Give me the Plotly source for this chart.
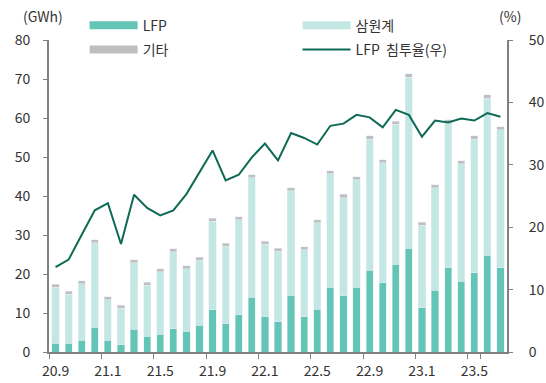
import plotly.graph_objects as go

months = ["20.9", "20.10", "20.11", "20.12",
          "21.1", "21.2", "21.3", "21.4", "21.5", "21.6", "21.7", "21.8", "21.9", "21.10", "21.11", "21.12",
          "22.1", "22.2", "22.3", "22.4", "22.5", "22.6", "22.7", "22.8", "22.9", "22.10", "22.11", "22.12",
          "23.1", "23.2", "23.3", "23.4", "23.5", "23.6", "23.7"]
tick_labels = ["20.9", "21.1", "21.5", "21.9", "22.1", "22.5", "22.9", "23.1", "23.5"]

lfp = [2.3, 2.3, 3.0, 6.3, 3.0, 1.8, 5.8, 4.0, 4.5, 5.9, 5.3, 6.8, 10.8, 7.2, 9.5, 14.0, 9.1, 7.7,
       14.5, 9.1, 10.9, 16.6, 14.4, 16.6, 20.9, 17.7, 22.5, 26.6, 11.3, 15.8, 21.6, 18.1, 20.3, 24.8, 21.6]
ncm = [14.3, 12.5, 14.5, 21.7, 10.4, 9.4, 17.1, 13.1, 16.1, 19.8, 16.0, 16.7, 22.7, 19.9, 24.4, 30.7, 18.5, 18.1,
       26.8, 17.1, 22.2, 29.1, 25.2, 27.6, 33.7, 30.8, 35.9, 43.9, 21.2, 26.3, 37.1, 30.2, 34.3, 40.3, 35.4]
other = [0.8] * 35
share = [13.6, 14.8, 18.8, 22.7, 23.85, 17.3, 25.2, 23.1, 21.9, 22.7, 25.3, 28.8, 32.3, 27.5, 28.4, 31.2, 33.4, 30.7,
         35.1, 34.3, 33.25, 36.25, 36.6, 38.0, 37.6, 36.0, 38.8, 38.0, 34.5, 37.1, 36.8, 37.4, 37.1, 38.3, 37.7]

C_LFP = "#63c5b5"
C_NCM = "#c3e8e3"
C_OTH = "#bfbfbf"
C_LINE = "#0d6a55"
FONT = "Noto Sans CJK KR"

fig = go.Figure()
fig.add_trace(go.Bar(x=months, y=lfp, name="LFP", marker_color=C_LFP, showlegend=False))
fig.add_trace(go.Bar(x=months, y=ncm, name="삼원계", marker_color=C_NCM, showlegend=False))
fig.add_trace(go.Bar(x=months, y=other, name="기타", marker_color=C_OTH, showlegend=False))
fig.add_trace(go.Scatter(x=months, y=share, name="LFP  침투율(우)", mode="lines",
                         line=dict(color=C_LINE, width=2), yaxis="y2", legend="legend2",
                         legendgroup="d", legendrank=2))

# legend-only entries with wide swatches
fig.add_trace(go.Scatter(x=[None], y=[None], mode="lines", name="LFP", legendgroup="a",
                         line=dict(color=C_LFP, width=8), legend="legend", legendrank=1))
fig.add_trace(go.Scatter(x=[None], y=[None], mode="lines", name="기타", legendgroup="b",
                         line=dict(color=C_OTH, width=8), legend="legend", legendrank=2))
fig.add_trace(go.Scatter(x=[None], y=[None], mode="lines", name="삼원계", legendgroup="c",
                         line=dict(color=C_NCM, width=8), legend="legend2", legendrank=1))

fig.update_layout(
    width=546, height=383,
    margin=dict(l=49, r=39, t=40, b=31, autoexpand=False),
    barmode="stack", bargap=0.45,
    plot_bgcolor="white", paper_bgcolor="white",
    font=dict(family=FONT, size=14, color="#333333"),
    xaxis=dict(type="category", categoryorder="array", categoryarray=months,
               tickvals=tick_labels, ticktext=tick_labels, tickson="boundaries",
               ticks="outside", ticklen=5, tickcolor="#808080", tickangle=0, automargin=False,
               ticklabelstandoff=5,
               showline=True, linecolor="#808080", linewidth=2, showgrid=False,
               range=[-0.5, 34.5], tickfont=dict(size=14, color="#333333")),
    yaxis=dict(range=[0, 80], dtick=10, showgrid=False, zeroline=False, automargin=False,
               showline=True, linecolor="#808080", linewidth=2,
               ticks="outside", ticklen=4, tickcolor="#808080", ticklabelstandoff=10,
               tickfont=dict(size=14, color="#333333")),
    yaxis2=dict(range=[0, 50], dtick=10, overlaying="y", side="right", showgrid=False, zeroline=False,
                showline=True, linecolor="#808080", linewidth=2, automargin=False,
                ticks="outside", ticklen=4, tickcolor="#808080", ticklabelstandoff=13,
                tickfont=dict(size=14, color="#333333")),
    legend=dict(xref="container", yref="container", x=0.155, y=0.975, xanchor="left", yanchor="top",
                orientation="v", bgcolor="rgba(0,0,0,0)", itemwidth=48, tracegroupgap=3,
                traceorder="grouped", font=dict(size=14, color="#333333")),
    legend2=dict(xref="container", yref="container", x=0.545, y=0.975, xanchor="left", yanchor="top",
                 orientation="v", bgcolor="rgba(0,0,0,0)", itemwidth=48, tracegroupgap=3,
                 traceorder="grouped", font=dict(size=14, color="#333333")),
    annotations=[
        dict(text="(GWh)", xref="paper", yref="paper", x=0, y=1.077, xanchor="right", yanchor="middle",
             xshift=16, showarrow=False, font=dict(size=14, color="#333333")),
        dict(text="(%)", xref="paper", yref="paper", x=1, y=1.077, xanchor="left", yanchor="middle",
             xshift=-10, showarrow=False, font=dict(size=14, color="#333333")),
    ],
)

fig.write_html("out.html", config={"displayModeBar": False},
               post_script="document.body.style.margin='0';")
